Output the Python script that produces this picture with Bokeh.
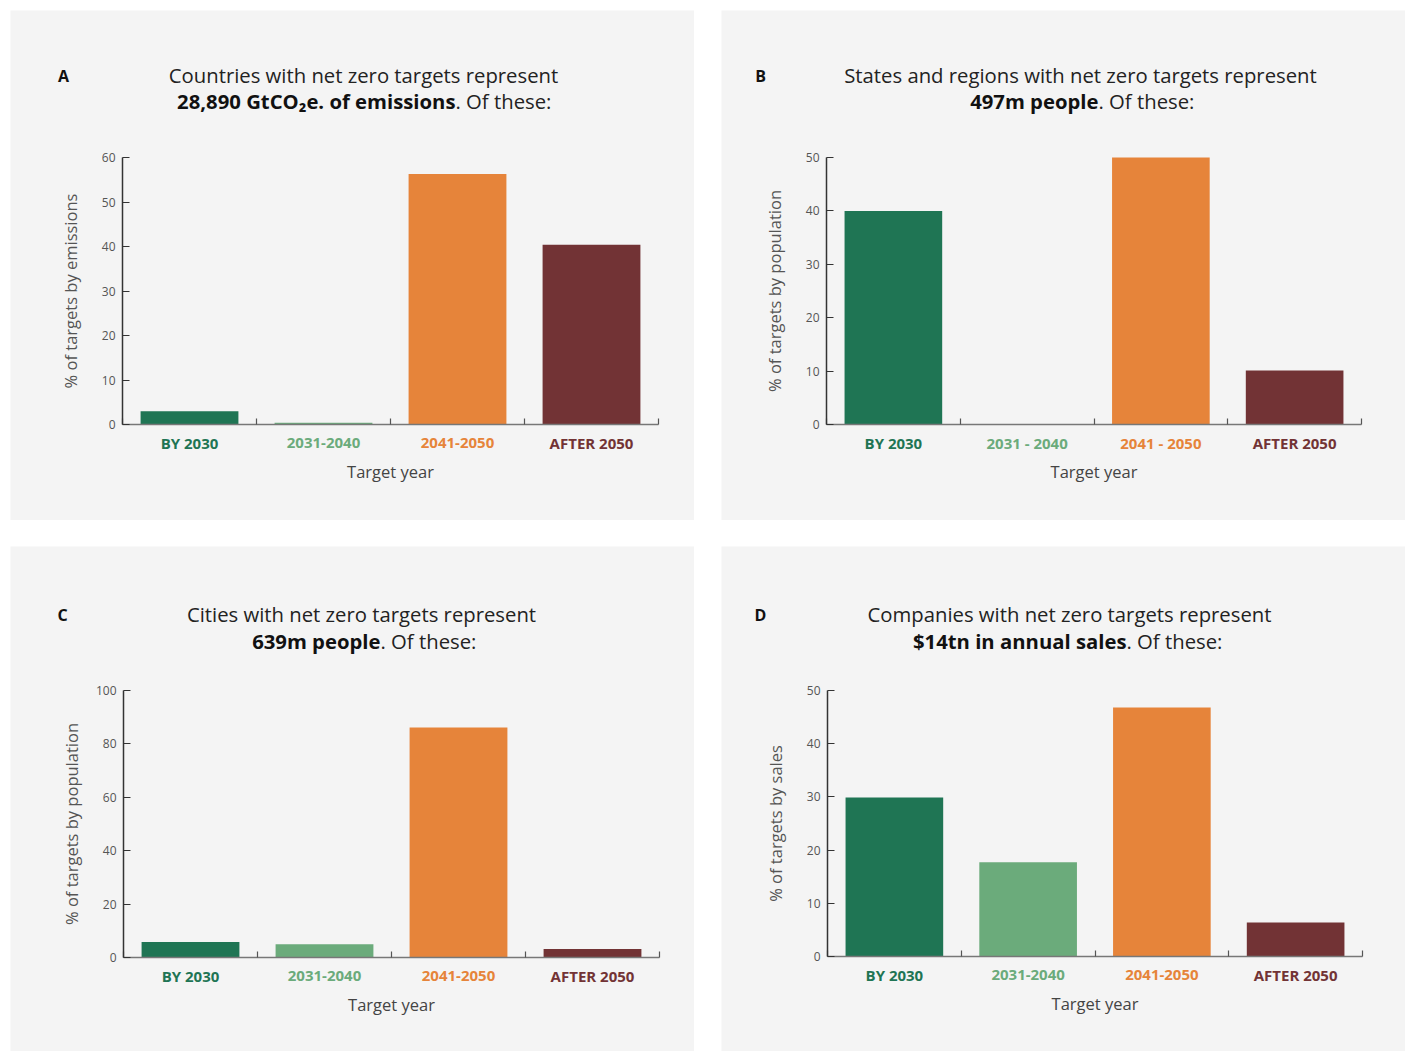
import math
from bokeh.plotting import figure
from bokeh.models import FixedTicker, Range1d, ColumnDataSource
from bokeh.core.properties import value
from bokeh.layouts import row, column
from bokeh.embed import file_html
from bokeh.resources import INLINE

# ---------------- data ----------------
categories = ["BY 2030", "2031-2040", "2041-2050", "AFTER 2050"]
categories_b = ["BY 2030", "2031 - 2040", "2041 - 2050", "AFTER 2050"]
colors = ["#1f7554", "#6bab7b", "#e6843a", "#723335"]

values_a = [3.0, 0.4, 56.3, 40.4]
values_b = [40.0, 0.0, 50.0, 10.1]
values_c = [5.8, 5.0, 86.1, 3.2]
values_d = [29.9, 17.7, 46.8, 6.4]

y_max = [60, 50, 100, 50]
y_step = [10, 10, 20, 10]
y_labels = ["% of targets by emissions", "% of targets by population",
            "% of targets by population", "% of targets by sales"]
x_label = "Target year"
letters = ["A", "B", "C", "D"]
title_line1 = ["Countries with net zero targets represent",
               "States and regions with net zero targets represent",
               "Cities with net zero targets represent",
               "Companies with net zero targets represent"]
title_bold = ["28,890 GtCO\u2082e. of emissions", "497m people",
              "639m people", "$14tn in annual sales"]
title_tail = ". Of these:"

# ---------------- layout / style ----------------
W, H = 684, 510
BG = "#f4f4f4"
FONT = "Open Sans"

# absolute page positions (px) of each panel and its plotting area
geoms = [
    dict(px=10, py=10, bl=112, br=36, bt=147, bb=96, cx=363, y1=74, y2=100, join=455, lx=63),
    dict(px=721, py=10, bl=105, br=44, bt=147, bb=96, cx=1080, y1=74, y2=100, join=1098, lx=760),
    dict(px=10, py=546, bl=113, br=35, bt=144, bb=99, cx=361, y1=613, y2=640, join=380, lx=62),
    dict(px=721, py=546, bl=106, br=43, bt=144, bb=100, cx=1069, y1=613, y2=640, join=1126, lx=760),
]


def make_panel(i, values, cats):
    g = geoms[i]
    n = len(cats)
    top = y_max[i]
    xs = (W - g["bl"] - g["br"]) / n          # px per category
    ys = (H - g["bt"] - g["bb"]) / top        # px per unit
    x_range = Range1d(-g["bl"] / xs, n + g["br"] / xs)
    y_range = Range1d(-g["bb"] / ys, top + g["bt"] / ys)

    p = figure(width=W, height=H, output_backend="svg", toolbar_location=None,
               x_range=x_range, y_range=y_range,
               min_border_left=0, min_border_right=0,
               min_border_top=0, min_border_bottom=0)
    p.background_fill_color = BG
    p.border_fill_color = BG
    p.outline_line_color = None
    p.grid.visible = False

    src = ColumnDataSource(dict(x=[k + 0.5 for k in range(n)],
                                top=values, color=colors, label=cats))
    p.vbar(x="x", top="top", width=0.73, bottom=0, color="color", source=src,
           line_color=None)

    # y axis
    ya = p.yaxis[0]
    ya.fixed_location = 0
    ya.bounds = (0, top)
    ya.ticker = FixedTicker(ticks=list(range(0, top + 1, y_step[i])))
    ya.axis_line_color = "#333333"
    ya.axis_line_width = 1.5
    ya.major_tick_line_color = "#333333"
    ya.major_tick_line_width = 1.2
    ya.major_tick_in = 7
    ya.major_tick_out = 0
    ya.minor_tick_line_color = None
    ya.major_label_text_font = FONT
    ya.major_label_text_font_size = "12px"
    ya.major_label_text_color = "#555555"
    ya.major_label_standoff = 7

    # x axis: only boundary ticks between categories, no tick labels
    xa = p.xaxis[0]
    xa.fixed_location = 0
    xa.bounds = (0, n)
    xa.ticker = FixedTicker(ticks=[], minor_ticks=list(range(0, n + 1)))
    xa.axis_line_color = "#777777"
    xa.axis_line_width = 1.5
    xa.minor_tick_line_color = "#555555"
    xa.minor_tick_line_width = 1.2
    xa.minor_tick_in = 6
    xa.minor_tick_out = 0
    xa.major_tick_line_color = None

    # anchors: data (0, top) is the top-left corner of the plotting area
    fl = g["px"] + g["bl"]
    ft = g["py"] + g["bt"]

    def txt(x, y, dx, dy, text, **kw):
        p.text(x=[x], y=[y], text=[text], x_offset=dx, y_offset=dy,
               text_baseline="middle", text_font=value(FONT), **kw)

    # category labels (below the axis)
    p.text(x="x", y=0, text="label", source=src, y_offset=18,
           text_align="center", text_baseline="middle", text_font=value(FONT),
           text_font_style="bold", text_font_size="15px", text_color="color")
    # x label
    txt(n / 2, 0, 0, 47, x_label, text_align="center",
        text_font_size="16.5px", text_color="#444444")
    # y label
    txt(0, top / 2, -52, 0, y_labels[i], angle=math.pi / 2, text_align="center",
        text_font_size="16.5px", text_color="#555555")
    # panel letter
    txt(0, top, g["lx"] - fl, g["y1"] - ft + 1, letters[i], text_align="center",
        text_font_style="bold", text_font_size="16px", text_color="#111111")
    # title line 1
    txt(0, top, g["cx"] - fl, g["y1"] - ft, title_line1[i], text_align="center",
        text_font_size="20.3px", text_color="#222222")
    # title line 2 (bold part + normal part)
    txt(0, top, g["join"] - fl, g["y2"] - ft, title_bold[i], text_align="right",
        text_font_style="bold", text_font_size="20.3px", text_color="#111111")
    txt(0, top, g["join"] - fl, g["y2"] - ft, title_tail, text_align="left",
        text_font_size="20.3px", text_color="#222222")
    return p


pa = make_panel(0, values_a, categories)
pb = make_panel(1, values_b, categories_b)
pc = make_panel(2, values_c, categories)
pd_ = make_panel(3, values_d, categories)

layout = column(row(pa, pb, spacing=27), row(pc, pd_, spacing=27), spacing=26,
                margin=(10, 0, 0, 10))

open("out.html", "w").write(file_html(layout, INLINE))
